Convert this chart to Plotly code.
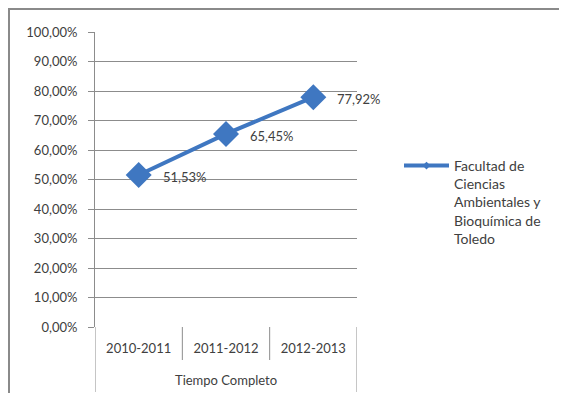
import plotly.graph_objects as go

categories = ["2010-2011", "2011-2012", "2012-2013"]
group_label = "Tiempo Completo"
series_name = "Facultad de<br>Ciencias<br>Ambientales y<br>Bioquímica de<br>Toledo"
values = [0.5153, 0.6545, 0.7792]
value_labels = ["51,53%", "65,45%", "77,92%"]
y_ticks = [0, 0.1, 0.2, 0.3, 0.4, 0.5, 0.6, 0.7, 0.8, 0.9, 1.0]
y_tick_labels = ["0,00%", "10,00%", "20,00%", "30,00%", "40,00%", "50,00%",
                 "60,00%", "70,00%", "80,00%", "90,00%", "100,00%"]

# page body has an 8px margin; figure fills the rest of the 567x401 window
OFF = 8
W, H = 567 - 2 * OFF, 401 - 2 * OFF
FONT = "Lato"
BLUE = "#3F77C1"
GRID = "#8C8C8C"
TXT = "#404040"


def px(x):
    return (x - OFF) / W


def py(y):
    return 1 - (y - OFF) / H


x_idx = list(range(len(categories)))

fig = go.Figure()
fig.add_trace(go.Scatter(
    x=x_idx, y=values, mode="lines+markers",
    line=dict(color=BLUE, width=4),
    marker=dict(symbol="diamond", size=20, color=BLUE),
    showlegend=False, legendgroup="s", hoverinfo="skip",
))
# legend entry (small marker like the original)
fig.add_trace(go.Scatter(
    x=[None], y=[None], mode="lines+markers", name=series_name,
    line=dict(color=BLUE, width=4),
    marker=dict(symbol="diamond", size=6, color=BLUE),
    showlegend=True, legendgroup="s",
))

for xi, v, lab in zip(x_idx, values, value_labels):
    fig.add_annotation(x=xi, y=v, xref="x", yref="y", text=lab,
                       showarrow=False, xanchor="left", yanchor="middle",
                       xshift=22, yshift=-2,
                       font=dict(family=FONT, size=13, color=TXT))

fig.update_layout(
    width=W, height=H,
    margin=dict(l=0, r=0, t=0, b=0, autoexpand=False),
    paper_bgcolor="white", plot_bgcolor="white",
    font=dict(family=FONT, size=13, color=TXT),
    xaxis=dict(
        domain=[px(95), px(357)], range=[-0.5, len(categories) - 0.5],
        tickvals=x_idx, ticktext=categories,
        showgrid=False, zeroline=False, showline=False,
        ticks="", ticklabelstandoff=12, fixedrange=True, automargin=False,
    ),
    yaxis=dict(
        domain=[py(327), py(32)], range=[0, 1],
        tickvals=y_ticks, ticktext=y_tick_labels,
        showgrid=True, gridcolor=GRID, gridwidth=1,
        zeroline=False, showline=True, linecolor=GRID, linewidth=1,
        ticks="outside", ticklen=6, tickcolor=GRID,
        ticklabelstandoff=8, fixedrange=True, automargin=False,
    ),
    legend=dict(x=px(399), y=py(150), xanchor="left", yanchor="top",
                valign="top", itemwidth=45,
                font=dict(family=FONT, size=14, color=TXT),
                bgcolor="rgba(0,0,0,0)", tracegroupgap=0),
    showlegend=True,
)

# category separators below the axis
line_style = dict(color=GRID, width=1)
for xs in [-0.5, 2.5]:
    fig.add_shape(type="line", xref="x", yref="paper", x0=xs, x1=xs,
                  y0=py(392), y1=py(327), line=line_style)
for xs in [0.5, 1.5]:
    fig.add_shape(type="line", xref="x", yref="paper", x0=xs, x1=xs,
                  y0=py(360), y1=py(327), line=line_style)

fig.add_annotation(x=(len(categories) - 1) / 2, y=py(380), xref="x", yref="paper",
                   text=group_label, showarrow=False, xanchor="center", yanchor="middle",
                   font=dict(family=FONT, size=13, color=TXT))

# outer chart border
fig.add_shape(type="rect", xref="paper", yref="paper",
              x0=1 / W, x1=1.02, y0=-0.02, y1=1 - 1 / H,
              line=dict(color="#8A8A8A", width=2), layer="below")

fig.write_html("out.html")
